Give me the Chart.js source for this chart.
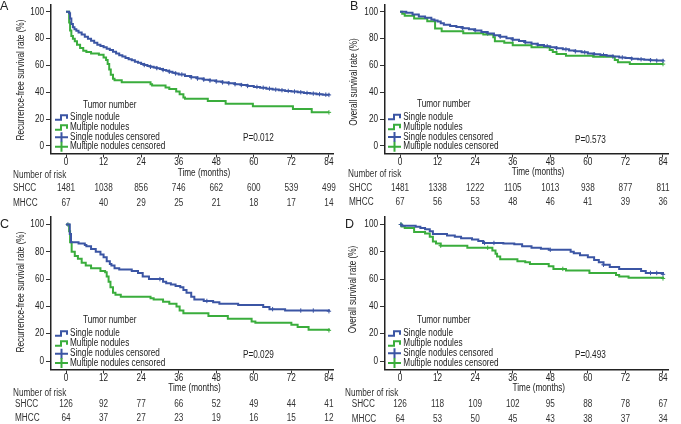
<!DOCTYPE html>
<html>
<head>
<meta charset="utf-8">
<script src="https://cdn.jsdelivr.net/npm/chart.js@4.4.1/dist/chart.umd.min.js"></script>
<style>
  body { margin: 0; background: #fff; }
  #wrap { position: relative; width: 681px; height: 424px; overflow: hidden; }
  canvas { position: absolute; }
</style>
</head>
<body>
<div id="wrap">
  <canvas id="chartA" width="340" height="212" style="left:0;top:0"></canvas>
  <canvas id="chartB" width="341" height="212" style="left:340px;top:0"></canvas>
  <canvas id="chartC" width="340" height="212" style="left:0;top:212px"></canvas>
  <canvas id="chartD" width="341" height="212" style="left:340px;top:212px"></canvas>
</div>
<script>
// axis ticks
const timeTicks = [0, 12, 24, 36, 48, 60, 72, 84];
const survTicks = [0, 20, 40, 60, 80, 100];

// A: recurrence-free survival, all patients  [month, %]
const rfsAllSingle = [[0,100],[1,99],[1.3,95],[1.7,91],[2.2,88.5],[2.7,87],[3.3,85.8],[4,84.5],[5,83],[6,81.5],[7,80],[8,78.5],[9,77],[10,75.5],[11,74.5],[12,73.5],[13,72.5],[14,71.5],[15,70.2],[16,69],[17,67.7],[18,66.6],[19,65.6],[20,64.6],[21,63.8],[22,62.8],[23,62],[24,61],[25,60.3],[26,59.6],[27,59],[28,58.5],[29,58],[30,57.3],[31,56.6],[32,56],[33,55.3],[34,54.6],[35,54],[36,53.3],[38,52.2],[40,51.1],[42,50.2],[44,49.4],[46,48.7],[48,48],[50,47.3],[52,46.7],[54,46],[56,45.4],[58,44.7],[60,44],[62,43.4],[64,42.7],[66,42],[68,41.5],[70,41],[72,40.5],[74,40],[76,39.5],[78,39],[80,38.6],[82,38.2],[84,38]];
const rfsAllMulti = [[0,100],[0.8,100],[1,92],[1.3,86],[1.7,82],[2.2,80],[2.8,78],[3.5,75.5],[4.5,73],[5.5,71],[6.5,70],[8,69],[10.5,68],[12,66],[12.8,64],[13.3,61],[13.8,57],[14.3,53],[15,50],[15.5,49],[17.8,47.5],[27,46],[27.5,45],[31.8,43.5],[33,42.5],[35.2,40.5],[36.3,38.5],[37.5,36],[38,35.2],[45.3,33.5],[51,31.5],[59.7,29.5],[72.5,27.5],[78.5,25],[84,25]];
const rfsAllSingleCens = [25,27,29,31,33,35,37,40,42,44,46,48,50,52,54,56,58,61,63,65,67,69,71,73,75,77,79,81,83,84];
const rfsAllMultiCens = [84];

// B: overall survival, all patients
const osAllSingle = [[0,100],[2,99.3],[4,98],[6,96.5],[8,95.5],[10,94.3],[11,93.5],[12,92.7],[13,91.5],[14,90.3],[16,89.5],[18,88.7],[20,87.8],[22,87],[24,86],[26,85],[28,83.8],[30,82.6],[32,81.5],[34,80.3],[36,79.2],[38,78.2],[40,77.2],[42,76.2],[44,75.3],[46,74.4],[48,73.6],[50,72.8],[52,72],[54,71.2],[56,70.5],[58,69.8],[60,69],[62,68.4],[64,67.8],[66,67.2],[68,66.6],[70,66],[72,65.5],[74,65],[76,64.6],[78,64.2],[80,63.9],[82,63.6],[84,63.4]];
const osAllMulti = [[0,100],[0.7,98.5],[1.5,97],[4.5,95],[8.7,93],[11.2,87.5],[13.3,85.5],[20.2,84],[26.6,83],[29.8,81],[30.3,78],[33.3,77],[36,75],[42,73.5],[47.8,71.5],[48.8,70],[50,68.5],[53,67.2],[61.7,66.5],[68.6,64],[69.6,62.3],[73.4,61],[84,61]];
const osAllSingleCens = [20,24,28,32,36,40,44,47,50,53,56,59,62,65,68,71,74,77,80,82,84];
const osAllMultiCens = [84];

// C: recurrence-free survival, matched cohort
const rfsPsmSingle = [[0,100],[0.8,100],[1.2,93],[1.6,87],[4,86],[6,85],[6.5,84],[8,82],[9.5,80],[11,78],[12,76],[13,73],[14,71],[14.5,70],[15.5,68],[17,67],[21,66],[23,64.5],[24.5,62],[26.5,60],[31,58],[32,57],[33.5,56],[35,55],[36.5,54],[37.5,52],[38.5,50],[40,47],[41,45],[44,44],[47,43],[49,42],[55,41],[63,39.5],[65,38],[70,37],[84,36.5]];
const rfsPsmMulti = [[0,100],[0.8,100],[1,95],[1.3,87],[1.8,80],[2.8,77],[3.8,75],[5,72],[6.3,70],[8,68],[11,66],[12.5,65],[13,62],[13.6,58],[14.2,54],[15,50],[15.8,48.5],[17.5,47],[27,46],[28,45],[31,43.5],[33,42],[35.3,40],[36.3,37],[37.5,35],[45.5,33],[51.7,31],[59.3,29],[60.5,28],[72,26.5],[74,25],[77.5,23],[84,22.5]];
const rfsPsmSingleCens = [0.6,30,45,66,75,79,84];
const rfsPsmMultiCens = [84];

// D: overall survival, matched cohort
const osPsmSingle = [[0,100],[0.5,99],[5,98.3],[6.5,97.5],[8,96.5],[9.5,95],[10.5,93],[15,92],[17.5,91],[19.5,90],[23,89],[25,88],[26.5,86.5],[33,86],[36.5,85.5],[39,84],[42,83],[45,82.3],[47.5,81.5],[54.5,80],[55.5,79],[57.5,77.5],[60,76],[62,74],[63.5,72.3],[65,70.5],[67,68.8],[70,67.5],[77,66],[78.5,64.5],[84,63.5]];
const osPsmMulti = [[0,100],[0.5,98.5],[1.5,97.5],[4.5,94.5],[8,93.5],[9.5,91],[10.5,87.5],[11.5,86],[13,84.5],[21.5,83],[29.5,81],[30.5,78.5],[31,76.5],[32,74.5],[37.5,73],[40,72.3],[41.5,71],[47.5,69.5],[49,67.5],[53,66.3],[60.5,64.5],[69,63],[70,62],[73,61],[84,60.5]];
const osPsmSingleCens = [0.3,27,30,48,65,80,82,84];
const osPsmMultiCens = [0.3,13,28,52,84];

// number at risk
const riskA_SHCC = [1481, 1038, 856, 746, 662, 600, 539, 499];
const riskA_MHCC = [67, 40, 29, 25, 21, 18, 17, 14];
const riskB_SHCC = [1481, 1338, 1222, 1105, 1013, 938, 877, 811];
const riskB_MHCC = [67, 56, 53, 48, 46, 41, 39, 36];
const riskC_SHCC = [126, 92, 77, 66, 52, 49, 44, 41];
const riskC_MHCC = [64, 37, 27, 23, 19, 16, 15, 12];
const riskD_SHCC = [126, 118, 109, 102, 95, 88, 78, 67];
const riskD_MHCC = [64, 53, 50, 45, 43, 38, 37, 34];

const pValues = ['P=0.012', 'P=0.573', 'P=0.029', 'P=0.493'];
const legendLabels = ['Single nodule', 'Multiple nodules', 'Single nodules censored', 'Multiple nodules censored'];

const BLUE = '#3b55a4';
const GREEN = '#3aad3c';
const FONT = "'Liberation Sans', Arial, sans-serif";
const SQUEEZE = 0.82; // the figure's lettering is horizontally condensed

// survival value of a step curve at time t (for placing censor marks)
function stepValue(curve, t) {
  let v = curve[0][1];
  for (const [x, y] of curve) {
    if (x <= t) v = y; else break;
  }
  return v;
}

// condensed text helper
function label(ctx, s, x, y, align, size, rot) {
  ctx.save();
  ctx.translate(x, y);
  if (rot) ctx.rotate(rot);
  ctx.scale(SQUEEZE, 1);
  ctx.font = (size || 10) + 'px ' + FONT;
  ctx.textAlign = align || 'left';
  ctx.textBaseline = 'middle';
  ctx.fillText(s, 0, 0);
  ctx.restore();
}

const decor = {
  id: 'decor',
  afterDraw(chart, args, o) {
    const ctx = chart.ctx;
    const xs = chart.scales.x, ys = chart.scales.y;
    const area = chart.chartArea;
    ctx.save();
    ctx.fillStyle = '#222';

    // panel letter
    ctx.font = '12.5px ' + FONT;
    ctx.textBaseline = 'middle';
    ctx.fillText(o.letter, o.letterPos[0], o.letterPos[1]);

    // tick labels
    xs.ticks.forEach(t => label(ctx, String(t.value), xs.getPixelForValue(t.value), area.bottom + 8.5, 'center'));
    ys.ticks.forEach(t => label(ctx, String(t.value), area.left - 7, ys.getPixelForValue(t.value), 'right'));

    // axis titles
    label(ctx, o.yTitle, o.yTitlePos[0], o.yTitlePos[1], 'center', 10, -Math.PI / 2);
    label(ctx, 'Time (months)', o.xTitlePos[0], o.xTitlePos[1], 'center');

    // legend
    label(ctx, 'Tumor number', o.legTitle[0], o.legTitle[1]);
    const ix = o.legIconX;
    o.legRows.forEach((y, i) => {
      ctx.strokeStyle = i % 2 === 0 ? BLUE : GREEN;
      ctx.lineWidth = 2;
      ctx.beginPath();
      if (i < 2) {
        ctx.moveTo(ix, y + 2);
        ctx.lineTo(ix + 6, y + 2);
        ctx.lineTo(ix + 6, y - 2.5);
        ctx.lineTo(ix + 12, y - 2.5);
        ctx.lineTo(ix + 12, y + 1);
      } else {
        ctx.moveTo(ix, y);
        ctx.lineTo(ix + 13, y);
        ctx.moveTo(ix + 6.5, y - 5);
        ctx.lineTo(ix + 6.5, y + 5);
      }
      ctx.stroke();
      label(ctx, legendLabels[i], o.legTextX, y);
    });

    label(ctx, o.pValue, o.pPos[0], o.pPos[1]);

    // number at risk table
    ctx.fillStyle = '#333';
    label(ctx, 'Number of risk', o.riskHead[0], o.riskHead[1]);
    o.risk.forEach((row, i) => {
      label(ctx, row.label, o.riskRowX, o.riskRows[i]);
      row.counts.forEach((n, j) => {
        label(ctx, String(n), xs.getPixelForValue(timeTicks[j]), o.riskRows[i], 'center');
      });
    });
    ctx.restore();
  }
};

function makePanel(id, curves, box, deco) {
  const [single, multi, singleCens, multiCens] = curves;
  const canvas = document.getElementById(id);
  const W = canvas.width, H = canvas.height;
  const lineSet = (curve, col) => ({
    data: curve.map(([x, y]) => ({ x, y })),
    borderColor: col, borderWidth: 2, stepped: true,
    pointRadius: 0, fill: false
  });
  const censSet = (times, curve, col) => ({
    data: times.map(t => ({ x: t, y: stepValue(curve, t) })),
    showLine: false, pointStyle: 'cross', pointRadius: 2.2,
    borderColor: col, borderWidth: 1, backgroundColor: col
  });
  return new Chart(canvas, {
    type: 'line',
    data: {
      datasets: [
        lineSet(single, BLUE),
        lineSet(multi, GREEN),
        censSet(singleCens, single, BLUE),
        censSet(multiCens, multi, GREEN)
      ]
    },
    options: {
      responsive: false,
      animation: false,
      devicePixelRatio: 1,
      layout: { padding: { top: box.top, right: W - box.right, left: 0, bottom: 0 } },
      plugins: { legend: { display: false }, tooltip: { enabled: false }, decor: deco },
      scales: {
        x: {
          type: 'linear', min: box.xMin, max: box.xMax,
          afterBuildTicks: s => { s.ticks = timeTicks.map(v => ({ value: v })); },
          afterFit: s => { s.height = H - box.bottom; s.paddingLeft = 0; s.paddingRight = 0; },
          border: { color: '#222', width: 1.5 },
          grid: { drawOnChartArea: false, tickLength: 4, tickColor: '#333', tickWidth: 1 },
          ticks: { display: false }
        },
        y: {
          type: 'linear', min: box.yMin, max: box.yMax,
          afterBuildTicks: s => { s.ticks = survTicks.map(v => ({ value: v })); },
          afterFit: s => { s.width = box.left; s.paddingTop = 0; s.paddingBottom = 0; },
          border: { color: '#222', width: 1.5 },
          grid: { drawOnChartArea: false, tickLength: 5, tickColor: '#333', tickWidth: 1 },
          ticks: { display: false }
        }
      }
    },
    plugins: [decor]
  });
}

makePanel('chartA', [rfsAllSingle, rfsAllMulti, rfsAllSingleCens, rfsAllMultiCens],
  { left: 51, right: 333, top: 2, bottom: 153.5, xMin: -4.8, xMax: 85.3, yMin: -5.7, yMax: 105.1 },
  { letter: 'A', letterPos: [0, 7], yTitle: 'Recurrence-free survival rate (%)', yTitlePos: [21, 80],
    xTitlePos: [204, 173], legTitle: [83, 105], legIconX: 55, legTextX: 70, legRows: [117.7, 127.7, 137.3, 146.7],
    pValue: pValues[0], pPos: [243, 138.3], riskHead: [13, 175], riskRowX: 13, riskRows: [188, 203],
    risk: [{ label: 'SHCC', counts: riskA_SHCC }, { label: 'MHCC', counts: riskA_MHCC }] });

makePanel('chartB', [osAllSingle, osAllMulti, osAllSingleCens, osAllMultiCens],
  { left: 45, right: 328, top: 2, bottom: 153.5, xMin: -4.8, xMax: 85.6, yMin: -5.7, yMax: 105.1 },
  { letter: 'B', letterPos: [10, 7], yTitle: 'Overall survival rate (%)', yTitlePos: [14, 82],
    xTitlePos: [198, 172], legTitle: [77, 104.3], legIconX: 48, legTextX: 63.3, legRows: [117.3, 127.3, 137, 146.7],
    pValue: pValues[1], pPos: [235, 140.7], riskHead: [8, 174], riskRowX: 9, riskRows: [188, 202],
    risk: [{ label: 'SHCC', counts: riskB_SHCC }, { label: 'MHCC', counts: riskB_MHCC }] });

makePanel('chartC', [rfsPsmSingle, rfsPsmMulti, rfsPsmSingleCens, rfsPsmMultiCens],
  { left: 51, right: 333, top: 5, bottom: 157.5, xMin: -4.8, xMax: 85.3, yMin: -6.2, yMax: 105.5 },
  { letter: 'C', letterPos: [0, 13], yTitle: 'Recurrence-free survival rate (%)', yTitlePos: [21, 80],
    xTitlePos: [194.5, 176.7], legTitle: [83, 108.3], legIconX: 55, legTextX: 70, legRows: [121.7, 131.7, 141.7, 151],
    pValue: pValues[2], pPos: [243, 143.3], riskHead: [13, 181.7], riskRowX: 15, riskRows: [192.7, 206.7],
    risk: [{ label: 'SHCC', counts: riskC_SHCC }, { label: 'MHCC', counts: riskC_MHCC }] });

makePanel('chartD', [osPsmSingle, osPsmMulti, osPsmSingleCens, osPsmMultiCens],
  { left: 45, right: 328, top: 5, bottom: 157.5, xMin: -4.8, xMax: 85.6, yMin: -6.2, yMax: 105.5 },
  { letter: 'D', letterPos: [5, 13], yTitle: 'Overall survival rate (%)', yTitlePos: [13.5, 77.5],
    xTitlePos: [198.8, 176.7], legTitle: [77, 108.3], legIconX: 48, legTextX: 63.3, legRows: [121.7, 131.7, 141.3, 151],
    pValue: pValues[3], pPos: [235, 143.3], riskHead: [5, 181.7], riskRowX: 11.7, riskRows: [192.7, 207.3],
    risk: [{ label: 'SHCC', counts: riskD_SHCC }, { label: 'MHCC', counts: riskD_MHCC }] });
</script>
</body>
</html>
